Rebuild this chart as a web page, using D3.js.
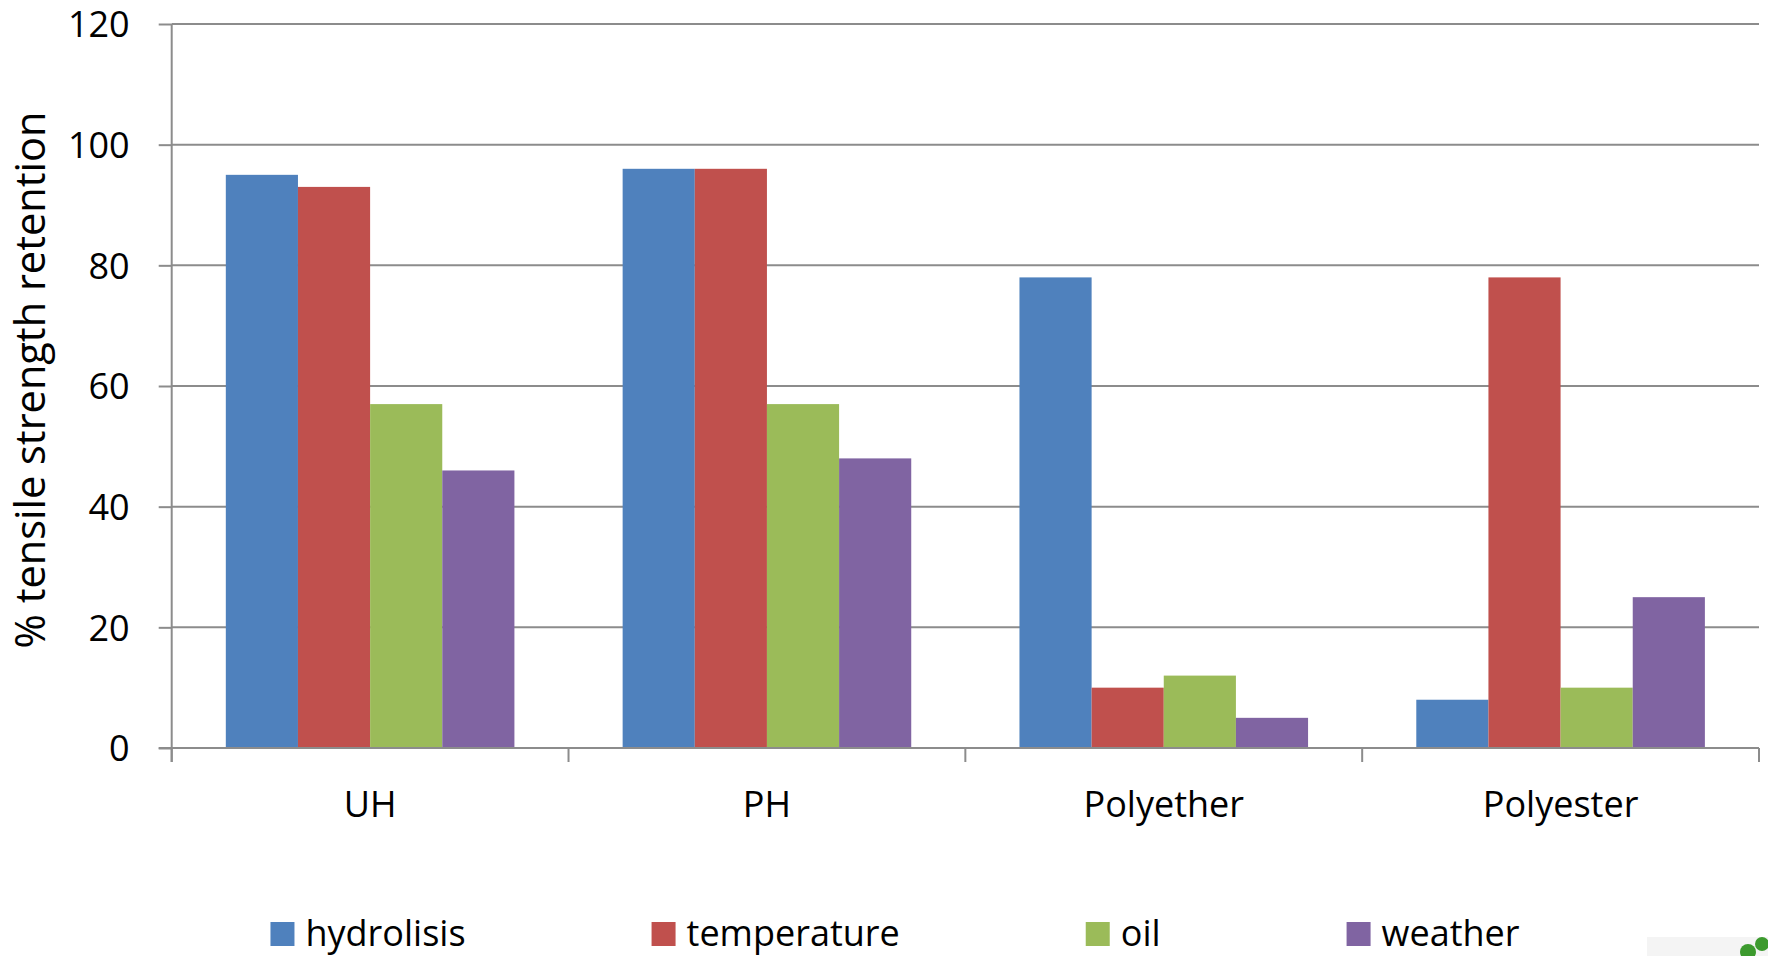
<!DOCTYPE html>
<html>
<head>
<meta charset="utf-8">
<script src="https://cdn.jsdelivr.net/npm/d3@7/dist/d3.min.js"></script>
<style>
  html, body { margin: 0; padding: 0; background: #ffffff; }
  svg { display: block; font-family: "Open Sans", Lato, sans-serif; }
</style>
</head>
<body>
<svg id="chart" width="1768" height="956"></svg>
<script>
// Materials tested and the exposure conditions
const categories = ["UH", "PH", "Polyether", "Polyester"];
const series = ["hydrolisis", "temperature", "oil", "weather"];
const hydrolisis  = [95, 96, 78, 8];
const temperature = [93, 96, 10, 78];
const oil         = [57, 57, 12, 10];
const weather     = [46, 48, 5, 25];
const yTicks = [0, 20, 40, 60, 80, 100, 120];
const yTitle = "% tensile strength retention";

const colors = ["#4F81BD", "#C0504D", "#9BBB59", "#8064A2"];
const valuesBySeries = [hydrolisis, temperature, oil, weather];

const rows = categories.map((c, i) => ({
  category: c,
  values: series.map((s, k) => ({ series: s, value: valuesBySeries[k][i] }))
}));

const plot = { left: 171.7, right: 1759, top: 24, bottom: 748 };
const axisColor = "#8c8c8c";
const fontFamily = "'Open Sans', Lato, sans-serif";
const fontSize = 36;

const svg = d3.select("#chart");

const x = d3.scaleBand().domain(categories).range([plot.left, plot.right]).padding(0);
const xInner = d3.scaleBand().domain(series).range([0, x.bandwidth()])
  .paddingInner(0).paddingOuter(0.75);
const y = d3.scaleLinear().domain([0, 120]).range([plot.bottom, plot.top]);
const color = d3.scaleOrdinal().domain(series).range(colors);

// horizontal gridlines
svg.append("g")
  .selectAll("line")
  .data(yTicks.filter(t => t > 0))
  .join("line")
  .attr("x1", plot.left).attr("x2", plot.right)
  .attr("y1", d => y(d)).attr("y2", d => y(d))
  .attr("stroke", axisColor).attr("stroke-width", 2);

// bars
svg.append("g")
  .selectAll("g")
  .data(rows)
  .join("g")
  .attr("transform", d => `translate(${x(d.category)},0)`)
  .selectAll("rect")
  .data(d => d.values)
  .join("rect")
  .attr("x", d => xInner(d.series))
  .attr("width", xInner.bandwidth())
  .attr("y", d => y(d.value))
  .attr("height", d => y(0) - y(d.value))
  .attr("fill", d => color(d.series));

// y axis
const yAxis = svg.append("g")
  .attr("transform", `translate(${plot.left},0)`)
  .call(d3.axisLeft(y).tickValues(yTicks).tickSize(13).tickPadding(29).tickFormat(d3.format("d")));
yAxis.select(".domain").attr("stroke", axisColor).attr("stroke-width", 2)
  .attr("d", `M0,${plot.top}V${plot.bottom + 14}`);
yAxis.selectAll(".tick line").attr("stroke", axisColor).attr("stroke-width", 2);
yAxis.selectAll(".tick text")
  .attr("font-size", fontSize).attr("fill", "#000")
  .attr("font-family", fontFamily)
  .attr("dy", "0.36em");

// x axis: baseline, boundary ticks and centred category labels
svg.append("line")
  .attr("x1", plot.left - 13).attr("x2", plot.right)
  .attr("y1", y(0)).attr("y2", y(0))
  .attr("stroke", axisColor).attr("stroke-width", 2);

const boundaries = categories.map(c => x(c)).concat([x(categories[categories.length - 1]) + x.bandwidth()]);
svg.append("g")
  .selectAll("line")
  .data(boundaries)
  .join("line")
  .attr("x1", d => d).attr("x2", d => d)
  .attr("y1", y(0)).attr("y2", y(0) + 14)
  .attr("stroke", axisColor).attr("stroke-width", 2);

const xAxis = svg.append("g")
  .attr("transform", `translate(0,${y(0)})`)
  .call(d3.axisBottom(x).tickSize(0).tickPadding(0));
xAxis.select(".domain").remove();
xAxis.selectAll(".tick text")
  .attr("font-size", fontSize).attr("fill", "#000")
  .attr("font-family", fontFamily)
  .attr("dy", null)
  .attr("y", 69);

// y axis title
svg.append("text")
  .attr("transform", `translate(45,380) rotate(-90)`)
  .attr("text-anchor", "middle")
  .attr("font-size", 41.5)
  .attr("fill", "#000")
  .text(yTitle);

// legend laid out left to right from measured label widths
const legend = svg.append("g");
const items = legend.selectAll("g").data(series).join("g");
items.append("rect")
  .attr("width", 24).attr("height", 24)
  .attr("y", -24)
  .attr("fill", d => color(d));
items.append("text")
  .attr("x", 35)
  .attr("font-size", fontSize)
  .attr("fill", "#000")
  .text(d => d);

const gap = 186;
let cursor = 0;
items.each(function () {
  const w = 35 + d3.select(this).select("text").node().getComputedTextLength();
  d3.select(this).attr("transform", `translate(${cursor},0)`);
  cursor += w + gap;
});
const legendWidth = cursor - gap;
legend.attr("transform", `translate(${895 - legendWidth / 2},946)`);

// small corner badge
const badge = svg.append("g");
badge.append("rect")
  .attr("x", 1647).attr("y", 937).attr("width", 121).attr("height", 19)
  .attr("fill", "#f4f4f4");
badge.append("circle").attr("cx", 1748).attr("cy", 952).attr("r", 8).attr("fill", "#3c9a2e");
badge.append("circle").attr("cx", 1762).attr("cy", 944).attr("r", 7).attr("fill", "#3c9a2e");
</script>
</body>
</html>
